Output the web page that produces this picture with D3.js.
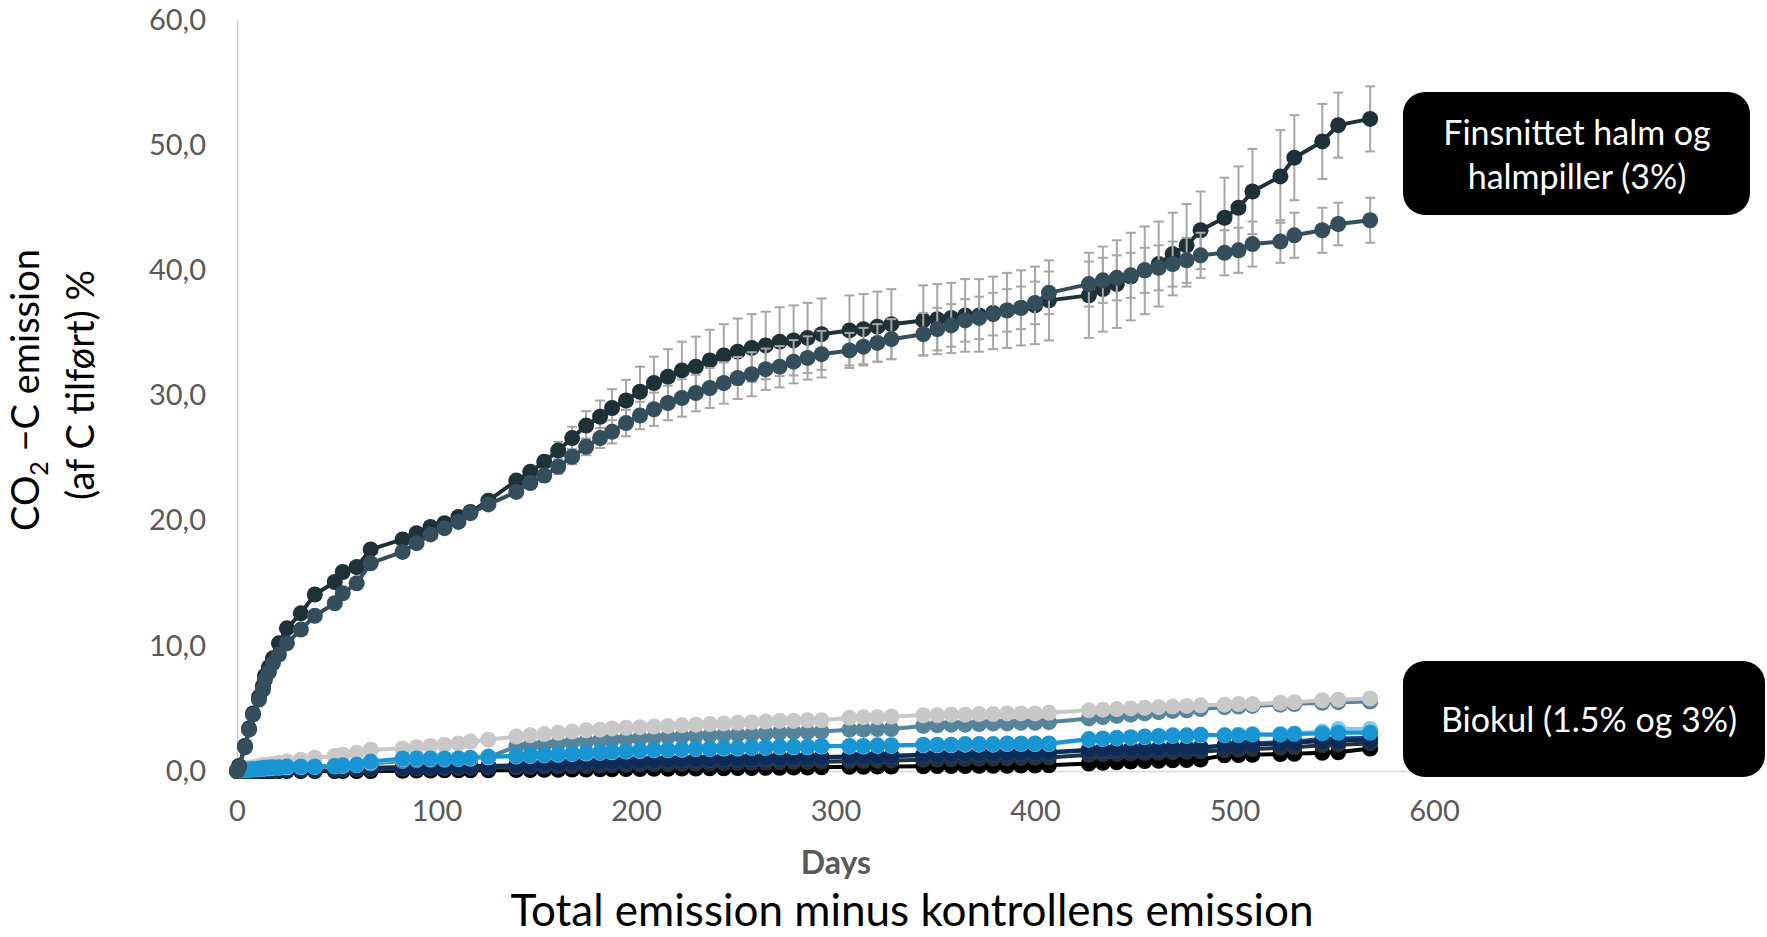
<!DOCTYPE html>
<html>
<head>
<meta charset="utf-8">
<script src="https://cdn.jsdelivr.net/npm/d3@7"></script>
<style>
    body { margin: 0; background: #fff; }
    svg { display: block; font-family: Lato, "Open Sans", sans-serif; }
</style>
</head>
<body>
<div id="chart"></div>
<script>
// measuring days
var days = [0, 1, 4, 6, 8, 11, 13, 14, 16, 18, 21, 25, 32, 39, 49, 53, 60, 67, 83, 90, 97, 104, 111, 117, 126,
    140, 147, 154, 161, 168, 175, 182, 188, 195, 202, 209, 216, 223, 230, 237, 244, 251, 258, 265, 272, 279, 286, 293,
    307, 314, 321, 328, 344, 351, 358, 365, 372, 379, 386, 393, 400, 407,
    427, 434, 441, 448, 455, 462, 469, 476, 483, 495, 502, 509, 523, 530, 544, 552, 568];

// finsnittet halm (3%)
var halm = [0, 0.4, 2.0, 3.4, 4.6, 5.9, 6.8, 7.6, 8.3, 9.0, 10.2, 11.4, 12.6, 14.1, 15.1, 15.9, 16.3, 17.7, 18.5, 19.0, 19.5, 19.8, 20.3, 20.7, 21.6,
    23.2, 23.9, 24.7, 25.6, 26.6, 27.6, 28.3, 29.0, 29.6, 30.3, 31.0, 31.5, 32.0, 32.3, 32.8, 33.2, 33.5, 33.8, 34.0, 34.3, 34.4, 34.6, 34.9,
    35.2, 35.3, 35.5, 35.7, 36.0, 36.1, 36.2, 36.4, 36.4, 36.6, 36.8, 37.0, 37.2, 37.6,
    38.0, 38.5, 38.9, 39.5, 40.0, 40.5, 41.3, 42.0, 43.2, 44.2, 45.0, 46.3, 47.5, 49.0, 50.3, 51.6, 52.1];
var halmErr = [0, 0.1, 0.2, 0.2, 0.3, 0.3, 0.3, 0.3, 0.3, 0.3, 0.3, 0.3, 0.3, 0.3, 0.3, 0.3, 0.3, 0.3, 0.3, 0.3, 0.3, 0.3, 0.3, 0.3, 0.3,
    0.3, 0.4, 0.5, 0.7, 0.9, 1.15, 1.3, 1.5, 1.65, 2.0, 2.1, 2.2, 2.3, 2.4, 2.45, 2.5, 2.65, 2.7, 2.7, 2.75, 2.8, 2.8, 2.85,
    2.8, 2.8, 2.8, 2.8, 2.8, 2.8, 2.8, 2.9, 2.9, 2.9, 3.0, 3.0, 3.1, 3.2,
    3.4, 3.4, 3.5, 3.5, 3.5, 3.4, 3.3, 3.3, 3.1, 3.2, 3.3, 3.4, 3.7, 3.4, 3.0, 2.6, 2.6];

// halmpiller (3%)
var piller = [0, 0.3, 1.9, 3.3, 4.5, 5.7, 6.5, 7.3, 7.9, 8.6, 9.3, 10.2, 11.3, 12.4, 13.4, 14.2, 15.0, 16.6, 17.5, 18.2, 18.9, 19.4, 19.9, 20.6, 21.3,
    22.3, 23.0, 23.6, 24.3, 25.1, 25.9, 26.6, 27.1, 27.8, 28.4, 28.9, 29.4, 29.8, 30.2, 30.6, 31.0, 31.4, 31.7, 32.1, 32.3, 32.7, 33.0, 33.3,
    33.6, 33.9, 34.2, 34.5, 34.9, 35.3, 35.6, 36.0, 36.2, 36.5, 36.8, 37.0, 37.4, 38.2,
    38.9, 39.2, 39.4, 39.6, 40.0, 40.2, 40.5, 40.8, 41.2, 41.4, 41.6, 42.1, 42.3, 42.8, 43.2, 43.7, 44.0];
var pillerErr = [0, 0.1, 0.2, 0.2, 0.2, 0.2, 0.2, 0.2, 0.2, 0.3, 0.3, 0.3, 0.3, 0.3, 0.3, 0.3, 0.3, 0.3, 0.3, 0.3, 0.3, 0.3, 0.3, 0.3, 0.3,
    0.4, 0.45, 0.5, 0.55, 0.6, 0.67, 0.8, 0.93, 1.06, 1.1, 1.33, 1.38, 1.49, 1.46, 1.6, 1.65, 1.68, 1.76, 1.65, 1.65, 1.73, 1.73, 1.86,
    1.4, 1.5, 1.5, 1.6, 1.7, 1.7, 1.7, 1.7, 1.7, 1.7, 1.7, 1.7, 1.7, 1.7,
    1.8, 1.8, 1.8, 1.8, 1.8, 1.8, 1.8, 1.8, 1.8, 1.8, 1.8, 1.8, 1.7, 1.8, 1.8, 1.7, 1.8];

// biokul treatments (1.5% and 3%)
var bioGrey = [0, 0.05, 0.2, 0.25, 0.3, 0.4, 0.45, 0.5, 0.5, 0.55, 0.65, 0.75, 0.9, 1.05, 1.2, 1.3, 1.45, 1.7, 1.8, 1.9, 2.0, 2.1, 2.2, 2.35, 2.5,
    2.75, 2.85, 2.95, 3.05, 3.15, 3.25, 3.3, 3.4, 3.45, 3.5, 3.55, 3.6, 3.65, 3.7, 3.75, 3.8, 3.85, 3.9, 3.95, 4.0, 4.0, 4.05, 4.05,
    4.25, 4.3, 4.3, 4.35, 4.45, 4.45, 4.5, 4.5, 4.55, 4.55, 4.6, 4.6, 4.6, 4.65,
    4.85, 4.9, 4.95, 5.0, 5.05, 5.1, 5.15, 5.2, 5.25, 5.3, 5.35, 5.35, 5.45, 5.5, 5.65, 5.7, 5.8];
var bioSteel = [0, 0.02, 0.08, 0.1, 0.12, 0.15, 0.18, 0.2, 0.2, 0.22, 0.25, 0.3, 0.3, 0.32, 0.35, 0.4, 0.45, 0.6, 0.8, 0.85, 0.9, 0.9, 0.95, 1.0, 1.1,
    1.95, 2.0, 2.1, 2.2, 2.3, 2.35, 2.45, 2.5, 2.55, 2.6, 2.65, 2.7, 2.75, 2.8, 2.85, 2.85, 2.9, 2.9, 3.0, 3.05, 3.1, 3.1, 3.15,
    3.3, 3.3, 3.35, 3.35, 3.6, 3.65, 3.7, 3.7, 3.75, 3.8, 3.8, 3.85, 3.85, 3.9,
    4.2, 4.3, 4.4, 4.5, 4.6, 4.7, 4.8, 4.85, 4.95, 5.1, 5.15, 5.2, 5.3, 5.35, 5.45, 5.5, 5.55];
var bioLight = [0, 0.05, 0.1, 0.12, 0.15, 0.18, 0.2, 0.22, 0.25, 0.27, 0.28, 0.3, 0.32, 0.33, 0.38, 0.42, 0.47, 0.7, 0.95, 0.97, 0.97, 0.98, 0.98, 1.0, 1.1,
    1.15, 1.2, 1.25, 1.3, 1.35, 1.4, 1.45, 1.5, 1.55, 1.6, 1.65, 1.65, 1.7, 1.75, 1.75, 1.8, 1.8, 1.85, 1.85, 1.9, 1.9, 1.9, 1.95,
    1.95, 1.95, 2.0, 2.0, 2.05, 2.05, 2.05, 2.1, 2.1, 2.1, 2.15, 2.15, 2.15, 2.15,
    2.5, 2.55, 2.6, 2.65, 2.7, 2.75, 2.8, 2.8, 2.85, 2.85, 2.9, 2.95, 2.95, 3.0, 3.15, 3.35, 3.35];
var bioBlue = [0, 0.05, 0.1, 0.12, 0.15, 0.2, 0.22, 0.25, 0.27, 0.3, 0.3, 0.35, 0.35, 0.35, 0.4, 0.45, 0.5, 0.75, 1.0, 1.0, 1.0, 1.0, 1.0, 1.05, 1.15,
    1.2, 1.25, 1.3, 1.35, 1.4, 1.45, 1.5, 1.55, 1.6, 1.65, 1.7, 1.7, 1.75, 1.8, 1.8, 1.85, 1.85, 1.9, 1.9, 1.95, 1.95, 1.95, 2.0,
    2.0, 2.0, 2.05, 2.05, 2.1, 2.1, 2.1, 2.15, 2.15, 2.15, 2.2, 2.2, 2.2, 2.2,
    2.55, 2.6, 2.65, 2.7, 2.75, 2.8, 2.85, 2.85, 2.9, 2.85, 2.85, 2.9, 2.9, 2.95, 3.0, 3.05, 3.05];
var bioDarkBlue = [0, 0.01, 0.02, 0.03, 0.04, 0.05, 0.05, 0.06, 0.07, 0.08, 0.09, 0.09, 0.1, 0.13, 0.16, 0.18, 0.2, 0.22, 0.27, 0.29, 0.3, 0.32, 0.34, 0.35, 0.37,
    0.42, 0.46, 0.5, 0.55, 0.6, 0.65, 0.68, 0.7, 0.75, 0.78, 0.8, 0.83, 0.86, 0.88, 0.9, 0.93, 0.95, 0.96, 1.0, 1.0, 1.05, 1.05, 1.08,
    1.1, 1.13, 1.15, 1.18, 1.25, 1.27, 1.3, 1.33, 1.35, 1.37, 1.4, 1.42, 1.44, 1.46,
    1.65, 1.68, 1.7, 1.73, 1.75, 1.78, 1.8, 1.83, 1.86, 2.05, 2.1, 2.2, 2.3, 2.35, 2.55, 2.6, 2.65];
var bioNavy = [0, 0.01, 0.02, 0.03, 0.04, 0.05, 0.06, 0.07, 0.08, 0.09, 0.1, 0.1, 0.12, 0.15, 0.18, 0.2, 0.22, 0.25, 0.3, 0.32, 0.33, 0.35, 0.37, 0.38, 0.4,
    0.45, 0.5, 0.55, 0.6, 0.65, 0.7, 0.72, 0.75, 0.8, 0.82, 0.85, 0.88, 0.9, 0.92, 0.95, 0.98, 1.0, 1.0, 1.05, 1.05, 1.1, 1.1, 1.12,
    1.15, 1.18, 1.2, 1.22, 1.3, 1.32, 1.35, 1.38, 1.4, 1.42, 1.44, 1.46, 1.48, 1.5,
    1.7, 1.72, 1.75, 1.78, 1.8, 1.82, 1.85, 1.88, 1.9, 2.0, 2.05, 2.1, 2.2, 2.25, 2.4, 2.45, 2.5];
var bioSlate = [0, 0.01, 0.01, 0.02, 0.02, 0.03, 0.03, 0.04, 0.04, 0.05, 0.05, 0.06, 0.07, 0.08, 0.1, 0.12, 0.13, 0.15, 0.18, 0.2, 0.2, 0.22, 0.23, 0.24, 0.25,
    0.28, 0.3, 0.33, 0.35, 0.38, 0.4, 0.42, 0.45, 0.47, 0.5, 0.52, 0.54, 0.56, 0.58, 0.6, 0.62, 0.64, 0.65, 0.67, 0.69, 0.7, 0.72, 0.74,
    0.78, 0.8, 0.82, 0.84, 0.9, 0.92, 0.94, 0.96, 0.98, 1.0, 1.02, 1.04, 1.06, 1.08,
    1.3, 1.33, 1.36, 1.4, 1.43, 1.46, 1.5, 1.53, 1.56, 1.65, 1.7, 1.75, 1.85, 1.9, 2.05, 2.1, 2.2];
var bioBlack = [0, 0, 0, 0, 0, 0, 0, 0, 0, 0, 0, 0, 0, 0, 0, 0, 0, 0, 0.02, 0.03, 0.04, 0.05, 0.05, 0.06, 0.06,
    0.07, 0.08, 0.09, 0.1, 0.11, 0.12, 0.13, 0.14, 0.15, 0.16, 0.17, 0.18, 0.19, 0.2, 0.21, 0.22, 0.23, 0.24, 0.25, 0.26, 0.27, 0.28, 0.29,
    0.33, 0.34, 0.35, 0.36, 0.38, 0.39, 0.4, 0.4, 0.41, 0.42, 0.42, 0.43, 0.44, 0.45,
    0.6, 0.65, 0.7, 0.75, 0.8, 0.82, 0.85, 0.88, 0.92, 1.25, 1.28, 1.3, 1.35, 1.38, 1.45, 1.5, 1.8];

var yTicks = [0, 10, 20, 30, 40, 50, 60];
var xTicks = [0, 100, 200, 300, 400, 500, 600];

(function () {
    var width = 1767;
    var height = 937;
    var radius = 8;

    // draw order: first one ends up at the bottom
    var series = [
        { values: bioBlack, color: "#000000" },
        { values: bioSlate, color: "#25323c" },
        { values: bioDarkBlue, color: "#1d4a8c" },
        { values: bioNavy, color: "#0e2a56" },
        { values: bioSteel, color: "#55849c" },
        { values: bioGrey, color: "#c8c8c8" },
        { values: bioLight, color: "#7ccbf2" },
        { values: bioBlue, color: "#1995d3" },
        { values: halm, err: halmErr, color: "#1e3139" },
        { values: piller, err: pillerErr, color: "#344e5c" }
    ];

    var x = d3.scaleLinear().domain([0, 600]).range([237, 1434]);
    var y = d3.scaleLinear().domain([0, 60]).range([771, 20]);

    var svg = d3.select("#chart").append("svg").attr("width", width).attr("height", height);

    renderAxes(svg);
    renderSeries(svg);
    renderTitles(svg);
    renderBoxes(svg);

    /* functions */

    function renderAxes(svg) {
        var fmt = function (d) { return d3.format(".1f")(d).replace(".", ","); };
        var yAxis = svg.append("g")
            .attr("transform", "translate(237,0)")
            .call(d3.axisLeft(y).tickValues(yTicks).tickFormat(fmt).tickSize(0).tickPadding(31));
        yAxis.select(".domain").attr("stroke", "#c8c8c8").attr("stroke-width", 1.5);

        var xAxis = svg.append("g")
            .attr("transform", "translate(0,771)")
            .call(d3.axisBottom(x).tickValues(xTicks).tickSize(0).tickPadding(29));
        xAxis.select(".domain").attr("stroke", "#d9d9d9").attr("stroke-width", 1.5);

        svg.selectAll(".tick text")
            .attr("fill", "#595959")
            .style("font-family", "Lato, sans-serif")
            .style("font-size", "29px");
    }

    function renderSeries(svg) {
        var line = d3.line()
            .x(function (d) { return x(d.day); })
            .y(function (d) { return y(d.v); });

        series.forEach(function (s) {
            var pts = days.map(function (d, i) {
                return { day: d, v: s.values[i], e: s.err ? s.err[i] : 0 };
            });
            var g = svg.append("g");

            if (s.err) {
                var bars = g.selectAll("g.err")
                    .data(pts)
                    .enter()
                    .append("g")
                    .attr("stroke", "#a6a6a6")
                    .attr("stroke-width", 2);
                bars.append("line")
                    .attr("x1", function (d) { return x(d.day); })
                    .attr("x2", function (d) { return x(d.day); })
                    .attr("y1", function (d) { return y(d.v - d.e); })
                    .attr("y2", function (d) { return y(d.v + d.e); });
                [-1, 1].forEach(function (sgn) {
                    bars.append("line")
                        .attr("x1", function (d) { return x(d.day) - 5; })
                        .attr("x2", function (d) { return x(d.day) + 5; })
                        .attr("y1", function (d) { return y(d.v + sgn * d.e); })
                        .attr("y2", function (d) { return y(d.v + sgn * d.e); });
                });
            }

            g.append("path")
                .datum(pts)
                .attr("fill", "none")
                .attr("stroke", s.color)
                .attr("stroke-width", 4)
                .attr("stroke-linejoin", "round")
                .attr("d", line);

            g.selectAll("circle")
                .data(pts)
                .enter()
                .append("circle")
                .attr("cx", function (d) { return x(d.day); })
                .attr("cy", function (d) { return y(d.v); })
                .attr("r", radius)
                .attr("fill", s.color);
        });
    }

    function renderTitles(svg) {
        svg.append("text")
            .attr("x", 836)
            .attr("y", 874)
            .attr("text-anchor", "middle")
            .attr("fill", "#595959")
            .style("font-size", "32px")
            .style("font-weight", "bold")
            .text("Days");

        svg.append("text")
            .attr("x", 912)
            .attr("y", 926)
            .attr("text-anchor", "middle")
            .attr("fill", "#000")
            .style("font-size", "44px")
            .text("Total emission minus kontrollens emission");

        var t1 = svg.append("text")
            .attr("transform", "translate(39,390) rotate(-90)")
            .attr("text-anchor", "middle")
            .attr("fill", "#000")
            .style("font-size", "38px");
        t1.append("tspan").text("CO");
        t1.append("tspan").attr("dy", 9).style("font-size", "25px").text("2");
        t1.append("tspan").attr("dy", -9).text(" \u2212C emission");

        svg.append("text")
            .attr("transform", "translate(94,385) rotate(-90)")
            .attr("text-anchor", "middle")
            .attr("fill", "#000")
            .style("font-size", "38px")
            .text("(af C tilf\u00f8rt) %");
    }

    function renderBoxes(svg) {
        var boxes = [
            { x: 1403, y: 92, w: 347, h: 123, cx: 1577, lines: ["Finsnittet halm og", "halmpiller (3%)"], base: 145 },
            { x: 1403, y: 661, w: 362, h: 116, cx: 1589, lines: ["Biokul (1.5% og 3%)"], base: 732 }
        ];
        boxes.forEach(function (b) {
            svg.append("rect")
                .attr("x", b.x)
                .attr("y", b.y)
                .attr("width", b.w)
                .attr("height", b.h)
                .attr("rx", 22)
                .attr("fill", "#000");
            b.lines.forEach(function (l, i) {
                svg.append("text")
                    .attr("x", b.cx)
                    .attr("y", b.base + i * 44)
                    .attr("text-anchor", "middle")
                    .attr("fill", "#fff")
                    .style("font-size", "34px")
                    .text(l);
            });
        });
    }
})();
</script>
</body>
</html>
